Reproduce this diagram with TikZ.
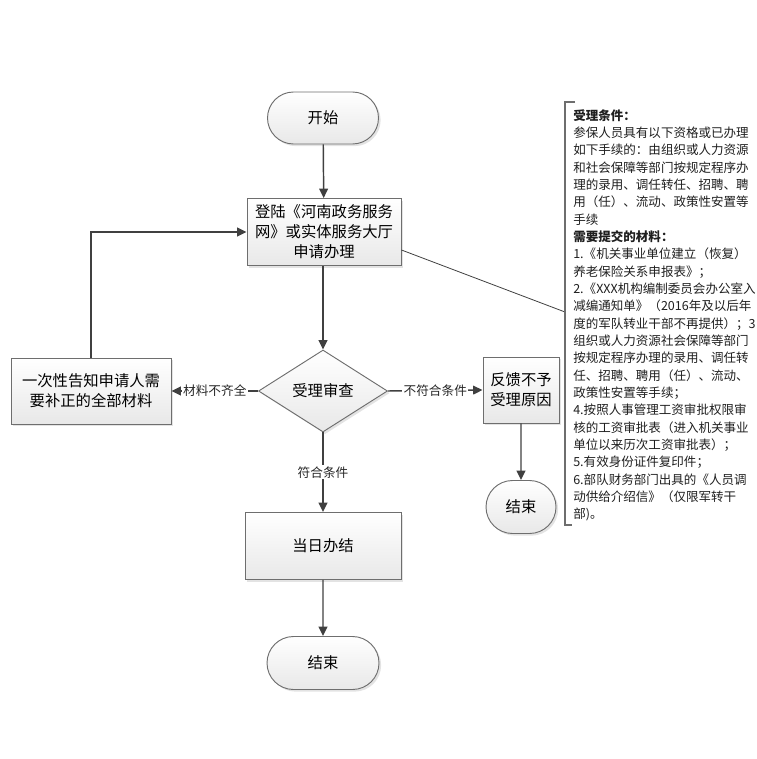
\documentclass[tikz,border=0pt]{standalone}
\usepackage{fontspec}
\setmainfont{Noto Sans CJK SC}
\usepackage{tikz}
\usetikzlibrary{arrows.meta, positioning, calc, shapes.geometric, shapes.misc, shadows}
\newlength\px
\setlength\px{0.75pt}
\definecolor{lineg}{HTML}{404040}
\definecolor{edgeg}{HTML}{6E6E6E}

\begin{document}
\begin{tikzpicture}[
  x=0.75pt, y=-0.75pt,
  >={Triangle[length=7pt, width=6.5pt]},
  box/.style={draw=edgeg, line width=0.7pt, top color=white, bottom color=black!9,
    drop shadow={shadow xshift=1.6pt, shadow yshift=-1.6pt, opacity=0.22},
    align=center, font=\fontsize{11.5}{15}\selectfont, inner sep=0pt},
  term/.style={box, rounded rectangle},
  decide/.style={box, diamond, minimum width=129\px, minimum height=82\px},
  flow/.style={->, draw=lineg, line width=1.1pt},
  lbl/.style={fill=white, inner sep=1pt, font=\fontsize{9.5}{11}\selectfont, text=black!85}
  ]
  \useasboundingbox (0,0) rectangle (756,759);

  \node[term, minimum width=111\px, minimum height=52\px] (start) at (323,118) {开始};
  \node[box, minimum width=154\px, minimum height=67\px] (login) at (324,232)
    {登陆《河南政务服务\\网》或实体服务大厅\\申请办理};
  \node[decide] (check) at (323,391) {受理审查};
  \node[box, minimum width=160\px, minimum height=66\px] (notify) at (91,391)
    {一次性告知申请人需\\要补正的全部材料};
  \node[box, minimum width=76\px, minimum height=66\px] (reject) at (521,390)
    {反馈不予\\受理原因};
  \node[term, minimum width=70\px, minimum height=53\px] (endb) at (521,507) {结束};
  \node[box, minimum width=156\px, minimum height=67\px] (done) at (323,546) {当日办结};
  \node[term, minimum width=112\px, minimum height=53\px] (enda) at (323,663) {结束};

  \draw[flow] (start) -- (login);
  \draw[flow] (login.south -| check.north) -- (check.north);
  \draw[flow] (check.west) -- node[lbl]{材料不齐全} (notify.east);
  \draw[flow] (check.east) -- node[lbl]{不符合条件} (reject.west);
  \draw[flow] (check.south) -- node[lbl]{符合条件} (done.north);
  \draw[flow] (done) -- (enda);
  \draw[flow] (reject) -- (endb);
  \draw[flow] (notify.north) |- (login.west);

  \coordinate (note) at (565,312);
  \draw[lineg, line width=0.6pt] ([yshift=-13.5pt]login.east) -- (note);
  \draw[edgeg, line width=0.9pt] (575,102) -- (565,102) -- (565,525) -- (572,525);

  \node[anchor=north west, align=left, inner sep=0pt, text=black!88,
    font=\fontsize{9.4}{13}\selectfont] (cond) at (573,109)
    {\textbf{受理条件：}\\
     参保人员具有以下资格或已办理\\
     如下手续的：由组织或人力资源\\
     和社会保障等部门按规定程序办\\
     理的录用、调任转任、招聘、聘\\
     用（任）、流动、政策性安置等\\
     手续\\
     \textbf{需要提交的材料：}\\
     1.《机关事业单位建立（恢复）\\
     养老保险关系申报表》；\\
     2.《XXX机构编制委员会办公室入\\
     减编通知单》（2016年及以后年\\
     度的军队转业干部不再提供）；3\\
     组织或人力资源社会保障等部门\\
     按规定程序办理的录用、调任转\\
     任、招聘、聘用（任）、流动、\\
     政策性安置等手续；\\
     4.按照人事管理工资审批权限审\\
     核的工资审批表（进入机关事业\\
     单位以来历次工资审批表）；\\
     5.有效身份证件复印件；\\
     6.部队财务部门出具的《人员调\\
     动供给介绍信》（仅限军转干\\
     部)。};
\end{tikzpicture}
\end{document}
